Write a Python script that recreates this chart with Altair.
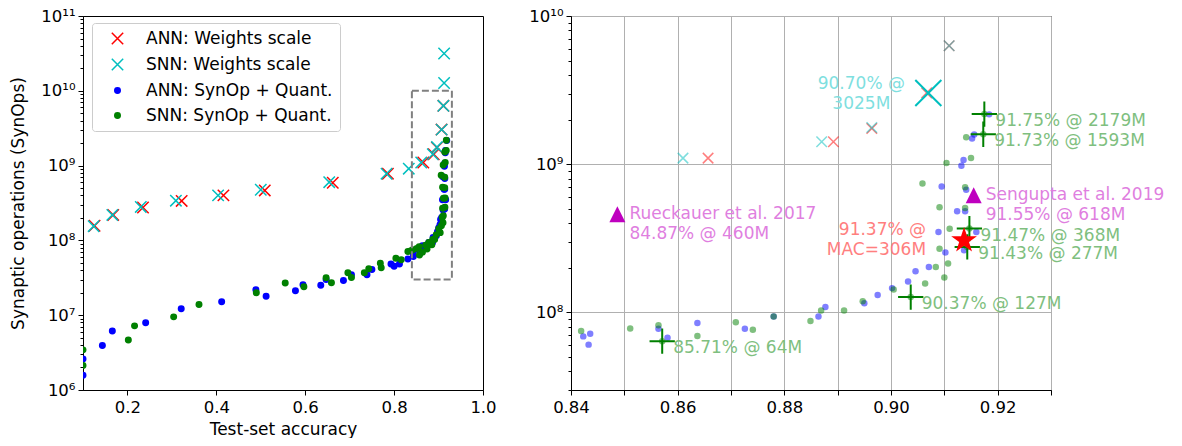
import math
import altair as alt
import pandas as pd

FONT = "DejaVu Sans"

# ---------------- data ----------------
series_names = ["ANN: Weights scale", "SNN: Weights scale",
                "ANN: SynOp + Quant.", "SNN: SynOp + Quant."]
series_colors = ["#ff0000", "#00bfbf", "#0000ff", "#008000"]

ann_w_acc = [0.126, 0.168, 0.235, 0.322, 0.416, 0.509, 0.662, 0.786,
             0.8657, 0.8892, 0.8964, 0.9067, 0.9109]
ann_w_ops = [1.57e8, 2.19e8, 2.75e8, 3.37e8, 4.0e8, 4.66e8, 5.9e8, 7.8e8,
             1.1e9, 1.42e9, 1.74e9, 3.03e9, 6.3e9]

snn_w_acc = [0.124, 0.166, 0.230, 0.309, 0.404, 0.500, 0.654, 0.783, 0.833,
             0.861, 0.887, 0.8964, 0.9070, 0.9109, 0.9125, 0.9125]
snn_w_ops = [1.55e8, 2.19e8, 2.8e8, 3.4e8, 4.0e8, 4.76e8, 6.0e8, 7.8e8, 9.1e8,
             1.1e9, 1.42e9, 1.77e9, 3.025e9, 6.3e9, 1.27e10, 3.15e10]

ann_acc = [0.100, 0.100, 0.1436, 0.166, 0.241, 0.321, 0.412, 0.489, 0.512,
           0.578, 0.595, 0.635, 0.647, 0.686, 0.704, 0.739, 0.750, 0.793,
           0.800, 0.812, 0.831,
           0.8423, 0.8433, 0.8436, 0.8564, 0.8581, 0.8637, 0.8726, 0.8780,
           0.8864, 0.8877, 0.8950, 0.8975, 0.9002, 0.9032, 0.9046, 0.9071,
           0.9089, 0.9095, 0.9102, 0.9124, 0.9132, 0.9136, 0.9137, 0.9139,
           0.9141, 0.9152, 0.9156, 0.9160, 0.9184]
ann_ops = [1.57e6, 2.59e6, 3.93e6, 6.15e6, 7.9e6, 1.22e7, 1.51e7, 2.19e7, 1.79e7,
           2.13e7, 2.56e7, 2.51e7, 3.0e7, 2.92e7, 3.47e7, 3.47e7, 4.08e7, 4.85e7,
           4.52e7, 4.85e7, 5.65e7,
           6.9e7, 6.07e7, 7.2e7, 7.78e7, 6.76e7, 8.49e7, 7.78e7, 9.4e7,
           9.4e7, 1.09e8, 1.155e8, 1.31e8, 1.46e8, 1.62e8, 1.9e8, 2.03e8,
           3.49e8, 7.08e8, 2.54e8, 4.82e8, 9.78e8, 1.07e9, 2.63e8, 4.82e8,
           6.73e8, 1.49e9, 1.59e9, 3.49e8, 2.17e9]

snn_acc = [0.100, 0.100, 0.202, 0.216, 0.304, 0.361, 0.490, 0.555, 0.597,
           0.647, 0.659, 0.696, 0.704, 0.733, 0.743, 0.769, 0.771, 0.804,
           0.816, 0.831, 0.838,
           0.8419, 0.8511, 0.8564, 0.8571, 0.8637, 0.8709, 0.8741, 0.8780,
           0.8849, 0.8869, 0.8912, 0.8947, 0.9005, 0.9037, 0.9064, 0.9059,
           0.9084, 0.9091, 0.9091, 0.9100, 0.9104, 0.9107, 0.9110, 0.9139,
           0.9139, 0.9141, 0.9143, 0.9147, 0.9150, 0.9173, 0.9175]
snn_ops = [3.44e6, 2.13e6, 4.67e6, 7.2e6, 9.5e6, 1.39e7, 2.0e7, 2.7e7, 2.4e7,
           3.16e7, 2.72e7, 3.69e7, 3.2e7, 3.69e7, 4.17e7, 4.95e7, 4.3e7, 5.77e7,
           5.5e7, 7.1e7, 7.3e7,
           7.5e7, 7.8e7, 8.2e7, 6.4e7, 6.95e7, 8.6e7, 7.65e7, 9.4e7,
           8.75e7, 1.03e8, 1.03e8, 1.19e8, 1.43e8, 1.27e8, 1.57e8, 7.41e8,
           2.03e8, 2.69e8, 5.13e8, 1.72e8, 1.02e9, 2.14e8, 3.67e8, 5.07e8,
           7.0e8, 1.52e9, 2.77e8, 3.68e8, 1.1e9, 1.593e9, 2.179e9]

# highlighted points (right panel)
best_snn_acc = [0.9175, 0.9173, 0.9147, 0.9143, 0.9037, 0.8571]
best_snn_ops = [2179e6, 1593e6, 368e6, 277e6, 127e6, 64e6]
best_snn_text = ["91.75% @ 2179M", "91.73% @ 1593M", "91.47% @ 368M",
                 "91.43% @ 277M", "90.37% @ 127M", "85.71% @ 64M"]

best_w_acc = [0.9070]
best_w_ops = [3025e6]
best_w_text = ["90.70% @\n3025M"]

ann_mac_acc = [0.9137]
ann_mac_ops = [306e6]
ann_mac_text = ["91.37% @\nMAC=306M"]

ref_acc = [0.8487, 0.9155]
ref_ops = [460e6, 618e6]
ref_text = ["Rueckauer et al. 2017\n84.87% @ 460M", "Sengupta et al. 2019\n91.55% @ 618M"]

# zoomed region shown in the right panel
zoom_acc = [0.84, 0.93]
zoom_ops = [3e7, 1e10]

left_acc_domain = [0.1, 1.0]
left_ops_domain = [1e6, 1e11]
left_xticks = [0.2, 0.4, 0.6, 0.8, 1.0]
left_exps = [6, 7, 8, 9, 10, 11]
right_xticks = [0.84, 0.85, 0.86, 0.87, 0.88, 0.89, 0.90, 0.91, 0.92, 0.93]
right_exps = [8, 9, 10]

# ---------------- helpers ----------------
X_PATH = "M-1,-1L1,1M-1,1L1,-1"
PLUS_PATH = "M-1,0L1,0M0,-1L0,1"
TRI_PATH = "M0,-1L1,1L-1,1Z"
_pts = []
for i in range(10):
    ang = math.pi / 2 + i * math.pi / 5
    r = 1.0 if i % 2 == 0 else 0.381966
    _pts.append(f"{r * math.cos(ang):.4f},{-r * math.sin(ang):.4f}")
STAR_PATH = "M" + "L".join(_pts) + "Z"

SUP = str.maketrans("0123456789", "\u2070\u00b9\u00b2\u00b3\u2074\u2075\u2076\u2077\u2078\u2079")


def pow_expr(exps):
    s = "''"
    for e in reversed(exps):
        lo, hi = 10 ** e * 0.99, 10 ** e * 1.01
        s = f"(datum.value > {lo} && datum.value < {hi}) ? '10{str(e).translate(SUP)}' : " + s
    return s


def minors(e_lo, e_hi):
    out = []
    for e in range(e_lo, e_hi):
        for k in range(2, 10):
            out.append(k * 10 ** e)
    return out


def df(accs, opss, **cols):
    d = pd.DataFrame({"acc": accs, "ops": opss})
    for k, v in cols.items():
        d[k] = v
    return d


all_df = pd.concat(
    [df(a, o, series=s) for s, a, o in zip(
        series_names,
        [ann_w_acc, snn_w_acc, ann_acc, snn_acc],
        [ann_w_ops, snn_w_ops, ann_ops, snn_ops])],
    ignore_index=True)

PLOT_H = 374

# ---------------- left panel ----------------
lx_scale = alt.Scale(domain=left_acc_domain, nice=False, zero=False)
ly_scale = alt.Scale(type="log", domain=left_ops_domain, nice=False)
lx_axis = alt.Axis(values=left_xticks, format=".1f", title="Test-set accuracy",
                   grid=False, tickSize=5, labelPadding=4, titlePadding=6)


def LX(field="acc:Q"):
    return alt.X(field, scale=lx_scale, axis=lx_axis)


left_points = alt.Chart(all_df).mark_point(opacity=1, strokeWidth=1.5, clip=True).encode(
    x=LX(),
    y=alt.Y("ops:Q", scale=ly_scale,
            axis=alt.Axis(values=[10 ** e for e in left_exps], labelExpr=pow_expr(left_exps),
                          title="Synaptic operations (SynOps)", orient="left", grid=False,
                          tickSize=5, labelPadding=3, minExtent=50, maxExtent=50,
                          titlePadding=6)),
    shape=alt.Shape("series:N", scale=alt.Scale(domain=series_names,
                                                range=[X_PATH, X_PATH, "circle", "circle"]),
                    legend=alt.Legend(title=None)),
    fill=alt.Fill("series:N", scale=alt.Scale(domain=series_names, range=series_colors),
                  legend=alt.Legend(title=None)),
    stroke=alt.Stroke("series:N", scale=alt.Scale(domain=series_names, range=series_colors),
                      legend=alt.Legend(title=None)),
    size=alt.Size("series:N", scale=alt.Scale(type="ordinal", domain=series_names,
                                              range=[130, 130, 30, 30]),
                  legend=alt.Legend(title=None)),
)

box_df = pd.DataFrame({"acc": [zoom_acc[0]], "acc2": [zoom_acc[1]],
                       "ops": [zoom_ops[0]], "ops2": [zoom_ops[1]]})
left_box = alt.Chart(box_df).mark_rect(filled=False, color="#808080", strokeWidth=2,
                                       strokeDash=[7, 3], opacity=1).encode(
    x=LX(), x2="acc2",
    y=alt.Y("ops:Q", scale=ly_scale, axis=None), y2="ops2",
)

left_minor_vals = minors(6, 11)
left_minor = alt.Chart(pd.DataFrame({"ops": left_minor_vals})).mark_point(opacity=0).encode(
    y=alt.Y("ops:Q", scale=ly_scale,
            axis=alt.Axis(values=left_minor_vals, labels=False, tickSize=3, domain=False,
                          grid=False, title=None, orient="left", minExtent=0)),
)

left = alt.layer(left_points, left_box, left_minor).resolve_axis(y="independent").properties(
    width=400, height=PLOT_H)

# ---------------- right panel ----------------
rx_scale = alt.Scale(domain=zoom_acc, nice=False, zero=False)
ry_scale = alt.Scale(type="log", domain=zoom_ops, nice=False)
rx_axis = alt.Axis(values=right_xticks,
                   labelExpr="round(datum.value*100) % 2 == 0 ? format(datum.value, '.2f') : ''",
                   grid=True, title=None, tickSize=5, labelPadding=4)

rx = alt.X("acc:Q", scale=rx_scale, axis=rx_axis)
ry_main = alt.Y("ops:Q", scale=ry_scale,
                axis=alt.Axis(values=[10 ** e for e in right_exps], labelExpr=pow_expr(right_exps),
                              grid=True, title=None, orient="left", tickSize=5, labelPadding=3))
ry = alt.Y("ops:Q", scale=ry_scale, axis=None)

r_red_x = alt.Chart(df(ann_w_acc, ann_w_ops)).mark_point(
    shape=X_PATH, filled=False, size=110, strokeWidth=1.5, color=series_colors[0],
    opacity=0.5, clip=True).encode(x=rx, y=ry_main)
r_cyan_x = alt.Chart(df(snn_w_acc, snn_w_ops)).mark_point(
    shape=X_PATH, filled=False, size=110, strokeWidth=1.5, color=series_colors[1],
    opacity=0.5, clip=True).encode(x=rx, y=ry)
r_blue = alt.Chart(df(ann_acc, ann_ops)).mark_circle(
    size=42, color=series_colors[2], opacity=0.5, clip=True).encode(x=rx, y=ry)
r_green = alt.Chart(df(snn_acc, snn_ops)).mark_circle(
    size=42, color=series_colors[3], opacity=0.5, clip=True).encode(x=rx, y=ry)

r_big_x = alt.Chart(df(best_w_acc, best_w_ops)).mark_point(
    shape=X_PATH, filled=False, size=680, strokeWidth=2, color="#00bfbf",
    opacity=1, clip=True).encode(x=rx, y=ry)
r_plus = alt.Chart(df(best_snn_acc, best_snn_ops)).mark_point(
    shape=PLUS_PATH, filled=False, size=640, strokeWidth=2, color="#008000",
    opacity=1, clip=True).encode(x=rx, y=ry)
r_tri = alt.Chart(df(ref_acc, ref_ops)).mark_point(
    shape=TRI_PATH, filled=True, size=256, color="#bf00bf", opacity=1,
    clip=True).encode(x=rx, y=ry)
r_star = alt.Chart(df(ann_mac_acc, ann_mac_ops)).mark_point(
    shape=STAR_PATH, filled=True, size=730, color="#ff0000", opacity=1,
    clip=True).encode(x=rx, y=ry)

txt_common = dict(font=FONT, fontSize=17, baseline="middle", lineBreak="\n", lineHeight=20)
t_green = alt.Chart(df(best_snn_acc, best_snn_ops, label=best_snn_text)).mark_text(
    align="left", dx=11, dy=7, color="#7fbf7f", **txt_common).encode(x=rx, y=ry, text="label:N")
t_cyan = alt.Chart(df(best_w_acc, best_w_ops, label=best_w_text)).mark_text(
    align="center", dx=-67, dy=-9, color="#7fdfdf", **txt_common).encode(x=rx, y=ry, text="label:N")
t_red = alt.Chart(df(ann_mac_acc, ann_mac_ops, label=ann_mac_text)).mark_text(
    align="right", dx=-38, dy=-10, color="#ff7f7f", **txt_common).encode(x=rx, y=ry, text="label:N")
t_mag = alt.Chart(df(ref_acc, ref_ops, label=ref_text)).mark_text(
    align="left", dx=12, dy=0, color="#df7fdf", **txt_common).encode(x=rx, y=ry, text="label:N")

right_minor_vals = [v for v in minors(7, 10) if v >= zoom_ops[0]]
r_minor = alt.Chart(pd.DataFrame({"ops": right_minor_vals})).mark_point(opacity=0).encode(
    y=alt.Y("ops:Q", scale=ry_scale,
            axis=alt.Axis(values=right_minor_vals, labels=False, tickSize=3, domain=False,
                          grid=False, title=None, orient="left", minExtent=0)),
)

right = alt.layer(r_red_x, r_cyan_x, r_blue, r_green, r_big_x, r_plus, r_tri, r_star,
                  t_green, t_cyan, t_red, t_mag, r_minor).resolve_axis(
    y="independent").properties(width=480, height=PLOT_H)

chart = alt.hconcat(left, right, spacing=88, bounds="flush").properties(
    padding={"left": 0, "top": -1, "right": 0, "bottom": 0}
).configure_view(stroke="black", strokeWidth=1).configure_axis(
    labelFont=FONT, titleFont=FONT, labelFontSize=16.5, titleFontSize=17,
    titleFontWeight="normal", labelColor="black", titleColor="black",
    domainColor="black", tickColor="black", domainWidth=1, tickWidth=1,
    labelFlush=False, labelOverlap=False, gridColor="#b0b0b0", gridWidth=1,
).configure_legend(
    orient="none", legendX=9, legendY=7, padding=7, rowPadding=7,
    symbolOffset=10, labelOffset=20, labelFont=FONT, labelFontSize=17,
    labelLimit=400, strokeColor="#cccccc", fillColor="rgba(255,255,255,0.8)",
    cornerRadius=3, symbolStrokeWidth=1.5, labelColor="black",
)

chart.save("out.html", embed_options={"renderer": "svg", "actions": False})
